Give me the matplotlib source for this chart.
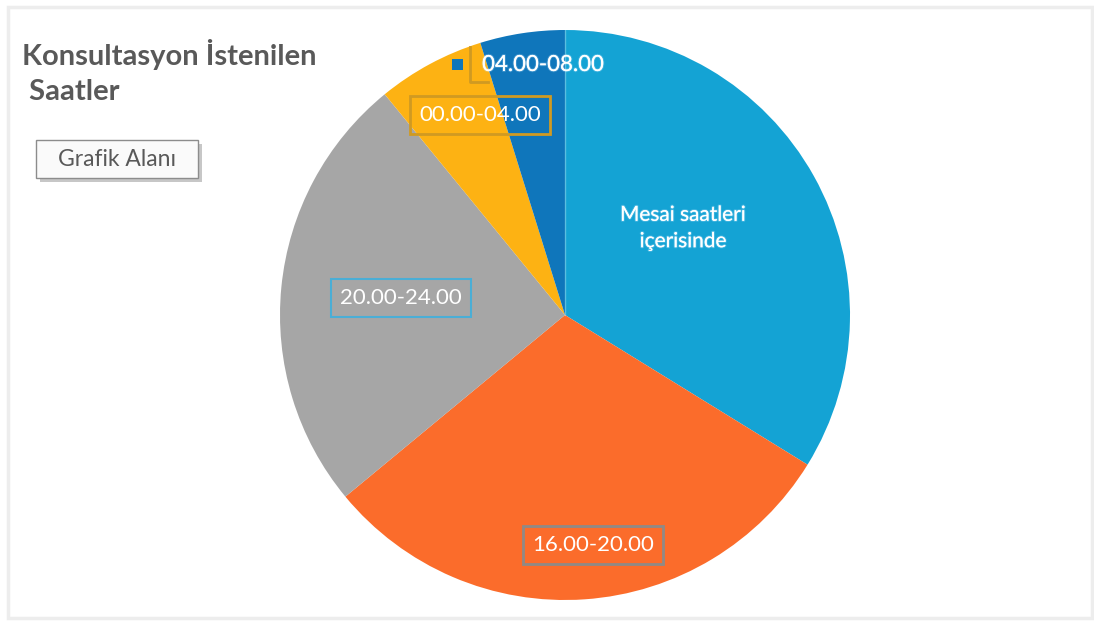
import matplotlib.pyplot as plt
from matplotlib.patches import Rectangle
import matplotlib.patheffects as pe

plt.rcParams['font.family'] = ['Lato', 'DejaVu Sans']

# slice shares (%), clockwise from 12 o'clock
labels = ["Mesai saatleri\niçerisinde", "16.00-20.00", "20.00-24.00", "00.00-04.00", "04.00-08.00"]
values = [33.8, 30.2, 25.1, 6.1, 4.8]
colors = ["#14a3d4", "#fb6c2b", "#a6a6a6", "#fdb213", "#0f76bb"]

W, H = 1094, 621
fig = plt.figure(figsize=(W / 100, H / 100), dpi=100)
ax = fig.add_axes([0, 0, 1, 1])

cx, cy, r = 565, 306, 285
wedges, _ = ax.pie(values, colors=colors, startangle=90, counterclock=False,
                   center=(cx, cy), radius=r, frame=True,
                   wedgeprops=dict(linewidth=0))
# faint seam at 12 o'clock
ax.plot([cx, cx], [cy, cy + r], color="white", alpha=0.3, lw=1)
ax.set_xlim(0, W)
ax.set_ylim(0, H)
ax.set_aspect('auto')
ax.set_axis_off()

# outer frame of the chart area
ax.add_patch(Rectangle((8, 3), W - 10, H - 10, fill=False, edgecolor="#ededed", lw=2.5))

# title
ax.text(22, H - 72, "Konsultasyon İstenilen\n Saatler", fontsize=21, fontweight='bold',
        color="#595959", ha='left', va='center', linespacing=1.4)

# "Grafik Alanı" tooltip box with shadow
ax.add_patch(Rectangle((40, H - 182), 162, 38, facecolor="#9a9a9a", edgecolor='none', alpha=0.55))
ax.add_patch(Rectangle((36, H - 178), 162, 38, facecolor="#fafafa", edgecolor="#8c8c8c", lw=1))
ax.text(117, H - 159, "Grafik Alanı", fontsize=16.5, color="#595959", ha='center', va='center')

glow = [pe.withStroke(linewidth=1.5, foreground=(0.75, 0.9, 1, 0.25))]
fs = 16

# data labels
ax.text(683, H - 228, labels[0], fontsize=15, color="white", ha='center', va='center',
        linespacing=1.4, path_effects=glow)

ax.text(593, H - 545, labels[1], fontsize=fs, color="white", ha='center', va='center',
        bbox=dict(boxstyle='square,pad=0.4', facecolor='none', edgecolor="#8f8a86", lw=2))

ax.text(401, H - 298, labels[2], fontsize=fs, color="white", ha='center', va='center',
        bbox=dict(boxstyle='square,pad=0.4', facecolor='none', edgecolor="#4aaed6", lw=1.5))

ax.text(480, H - 115, labels[3], fontsize=fs, color="white", ha='center', va='center',
        bbox=dict(boxstyle='square,pad=0.4', facecolor='none', edgecolor="#d09a22", lw=2))

ax.text(543, H - 65, labels[4], fontsize=fs, color="white", ha='center', va='center',
        path_effects=glow)
ax.add_patch(Rectangle((452, H - 70), 11, 11, facecolor=colors[4], edgecolor='none'))
ax.plot([470, 470, 488], [H - 47, H - 82, H - 82], color="#d09a22", lw=2)

fig.savefig("out.png", dpi=100)
